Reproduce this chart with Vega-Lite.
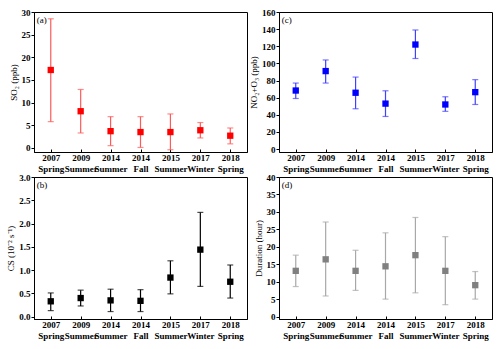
{
  "$schema": "https://vega.github.io/schema/vega-lite/v6.json",
  "padding": {"left": 6, "top": 7, "right": 2, "bottom": 0},
  "background": "white",
  "config": {
    "font": "Liberation Serif",
    "view": {"stroke": "black", "strokeWidth": 1},
    "axis": {
      "grid": false,
      "domainColor": "black",
      "tickColor": "black",
      "labelColor": "black",
      "titleColor": "black",
      "labelFont": "Liberation Serif",
      "titleFont": "Liberation Serif",
      "labelFontWeight": "bold",
      "labelFontSize": 9,
      "titleFontSize": 9,
      "titleFontWeight": "normal",
      "tickSize": 3
    },
    "axisY": {"labelPadding": 1, "titlePadding": 3, "labelOverlap": false, "labelFlush": false},
    "axisX": {"tickSize": -3, "labelPadding": 4, "labelAngle": 0, "labelBound": false, "labelOverlap": false, "title": null}
  },
  "datasets": {
    "d": [
      {"period": "2007 Spring", "so2": 17.2, "so2lo": 5.8, "so2hi": 28.5, "no": 68.3, "nolo": 59, "nohi": 77, "cs": 0.33, "cslo": 0.13, "cshi": 0.51, "dur": 13.1, "durlo": 8.6, "durhi": 17.6},
      {"period": "2009 Summer", "so2": 8.1, "so2lo": 3.3, "so2hi": 12.9, "no": 91, "nolo": 77, "nohi": 104, "cs": 0.40, "cslo": 0.23, "cshi": 0.57, "dur": 16.4, "durlo": 5.9, "durhi": 27.1},
      {"period": "2014 Summer", "so2": 3.7, "so2lo": 0.5, "so2hi": 6.9, "no": 65.7, "nolo": 47, "nohi": 84, "cs": 0.35, "cslo": 0.11, "cshi": 0.59, "dur": 13.1, "durlo": 7.5, "durhi": 19.0},
      {"period": "2014 Fall", "so2": 3.5, "so2lo": 0.1, "so2hi": 6.9, "no": 53, "nolo": 38, "nohi": 68, "cs": 0.34, "cslo": 0.11, "cshi": 0.58, "dur": 14.4, "durlo": 5.0, "durhi": 24.0},
      {"period": "2015 Summer", "so2": 3.5, "so2lo": -0.4, "so2hi": 7.5, "no": 122, "nolo": 105.7, "nohi": 139, "cs": 0.84, "cslo": 0.49, "cshi": 1.20, "dur": 17.6, "durlo": 6.8, "durhi": 28.4},
      {"period": "2017 Winter", "so2": 3.9, "so2lo": 2.2, "so2hi": 5.6, "no": 52, "nolo": 44, "nohi": 61, "cs": 1.44, "cslo": 0.65, "cshi": 2.24, "dur": 13.1, "durlo": 3.4, "durhi": 22.9},
      {"period": "2018 Spring", "so2": 2.7, "so2lo": 0.9, "so2hi": 4.4, "no": 66.4, "nolo": 52, "nohi": 81, "cs": 0.75, "cslo": 0.40, "cshi": 1.11, "dur": 9.0, "durlo": 5.0, "durhi": 12.9}
    ]
  },
  "columns": 2,
  "spacing": {"column": 1, "row": -2},
  "concat": [
    {
      "width": 213, "height": 140,
      "encoding": {
        "x": {"field": "period", "type": "ordinal", "sort": null, "scale": {"type": "point", "padding": 0.56},
          "axis": {"labelExpr": "split(datum.value, ' ')"}}
      },
      "layer": [
        {"data": {"name": "d"}, "mark": {"type": "errorbar", "ticks": {"size": 6}, "color": "#ff5a5a", "thickness": 1.2},
         "encoding": {"y": {"field": "so2lo", "type": "quantitative", "scale": {"domain": [-0.9, 30], "nice": false, "zero": false},
           "axis": {"title": "SO₂ (ppb)", "values": [0, 5, 10, 15, 20, 25, 30], "tickCount": 7, "labelOverlap": false}}, "y2": {"field": "so2hi"}}},
        {"data": {"name": "d"}, "mark": {"type": "square", "filled": true, "opacity": 1, "color": "#ff0000", "size": 40},
         "encoding": {"y": {"field": "so2", "type": "quantitative", "axis": {"title": "SO₂ (ppb)", "values": [0, 5, 10, 15, 20, 25, 30], "tickCount": 7, "labelOverlap": false}}}},
        {"data": {"values": [{"t": "(a)", "p": "2007 Spring", "v": 30}]},
         "mark": {"type": "text", "align": "left", "baseline": "top", "dx": -14, "dy": 4, "fontSize": 9, "font": "Liberation Serif", "color": "black"},
         "encoding": {"x": {"field": "p", "type": "ordinal"}, "y": {"field": "v", "type": "quantitative"}, "text": {"field": "t"}}}
      ]
    },
    {
      "width": 213, "height": 140,
      "encoding": {
        "x": {"field": "period", "type": "ordinal", "sort": null, "scale": {"type": "point", "padding": 0.56},
          "axis": {"labelExpr": "split(datum.value, ' ')"}}
      },
      "layer": [
        {"data": {"name": "d"}, "mark": {"type": "errorbar", "ticks": {"size": 6}, "color": "#4040ff", "thickness": 1.2},
         "encoding": {"y": {"field": "nolo", "type": "quantitative", "scale": {"domain": [-3.5, 160], "nice": false, "zero": false},
           "axis": {"title": "NO₂+O₃ (ppb)", "values": [0, 20, 40, 60, 80, 100, 120, 140, 160], "tickCount": 9, "labelOverlap": false}}, "y2": {"field": "nohi"}}},
        {"data": {"name": "d"}, "mark": {"type": "square", "filled": true, "opacity": 1, "color": "#0000ff", "size": 40},
         "encoding": {"y": {"field": "no", "type": "quantitative", "axis": {"title": "NO₂+O₃ (ppb)", "values": [0, 20, 40, 60, 80, 100, 120, 140, 160], "tickCount": 9, "labelOverlap": false}}}},
        {"data": {"values": [{"t": "(c)", "p": "2007 Spring", "v": 160}]},
         "mark": {"type": "text", "align": "left", "baseline": "top", "dx": -14, "dy": 4, "fontSize": 9, "font": "Liberation Serif", "color": "black"},
         "encoding": {"x": {"field": "p", "type": "ordinal"}, "y": {"field": "v", "type": "quantitative"}, "text": {"field": "t"}}}
      ]
    },
    {
      "width": 213, "height": 142,
      "encoding": {
        "x": {"field": "period", "type": "ordinal", "sort": null, "scale": {"type": "point", "padding": 0.56},
          "axis": {"labelExpr": "split(datum.value, ' ')"}}
      },
      "layer": [
        {"data": {"name": "d"}, "mark": {"type": "errorbar", "ticks": {"size": 6}, "color": "#000000", "thickness": 1.2},
         "encoding": {"y": {"field": "cslo", "type": "quantitative", "scale": {"domain": [-0.05, 3], "nice": false, "zero": false},
           "axis": {"title": "CS (10⁻² s⁻¹)", "values": [0, 0.5, 1, 1.5, 2, 2.5, 3], "format": ".1f", "tickCount": 7, "labelOverlap": false}}, "y2": {"field": "cshi"}}},
        {"data": {"name": "d"}, "mark": {"type": "square", "filled": true, "opacity": 1, "color": "#000000", "size": 40},
         "encoding": {"y": {"field": "cs", "type": "quantitative", "axis": {"title": "CS (10⁻² s⁻¹)", "values": [0, 0.5, 1, 1.5, 2, 2.5, 3], "format": ".1f", "tickCount": 7, "labelOverlap": false}}}},
        {"data": {"values": [{"t": "(b)", "p": "2007 Spring", "v": 3}]},
         "mark": {"type": "text", "align": "left", "baseline": "top", "dx": -14, "dy": 4, "fontSize": 9, "font": "Liberation Serif", "color": "black"},
         "encoding": {"x": {"field": "p", "type": "ordinal"}, "y": {"field": "v", "type": "quantitative"}, "text": {"field": "t"}}}
      ]
    },
    {
      "width": 213, "height": 142,
      "encoding": {
        "x": {"field": "period", "type": "ordinal", "sort": null, "scale": {"type": "point", "padding": 0.56},
          "axis": {"labelExpr": "split(datum.value, ' ')"}}
      },
      "layer": [
        {"data": {"name": "d"}, "mark": {"type": "errorbar", "ticks": {"size": 6}, "color": "#a8a8a8", "thickness": 1.2},
         "encoding": {"y": {"field": "durlo", "type": "quantitative", "scale": {"domain": [-0.7, 40], "nice": false, "zero": false},
           "axis": {"title": "Duration (hour)", "values": [0, 5, 10, 15, 20, 25, 30, 35, 40], "tickCount": 9, "labelOverlap": false}}, "y2": {"field": "durhi"}}},
        {"data": {"name": "d"}, "mark": {"type": "square", "filled": true, "opacity": 1, "color": "#808080", "size": 40},
         "encoding": {"y": {"field": "dur", "type": "quantitative", "axis": {"title": "Duration (hour)", "values": [0, 5, 10, 15, 20, 25, 30, 35, 40], "tickCount": 9, "labelOverlap": false}}}},
        {"data": {"values": [{"t": "(d)", "p": "2007 Spring", "v": 40}]},
         "mark": {"type": "text", "align": "left", "baseline": "top", "dx": -14, "dy": 4, "fontSize": 9, "font": "Liberation Serif", "color": "black"},
         "encoding": {"x": {"field": "p", "type": "ordinal"}, "y": {"field": "v", "type": "quantitative"}, "text": {"field": "t"}}}
      ]
    }
  ]
}
